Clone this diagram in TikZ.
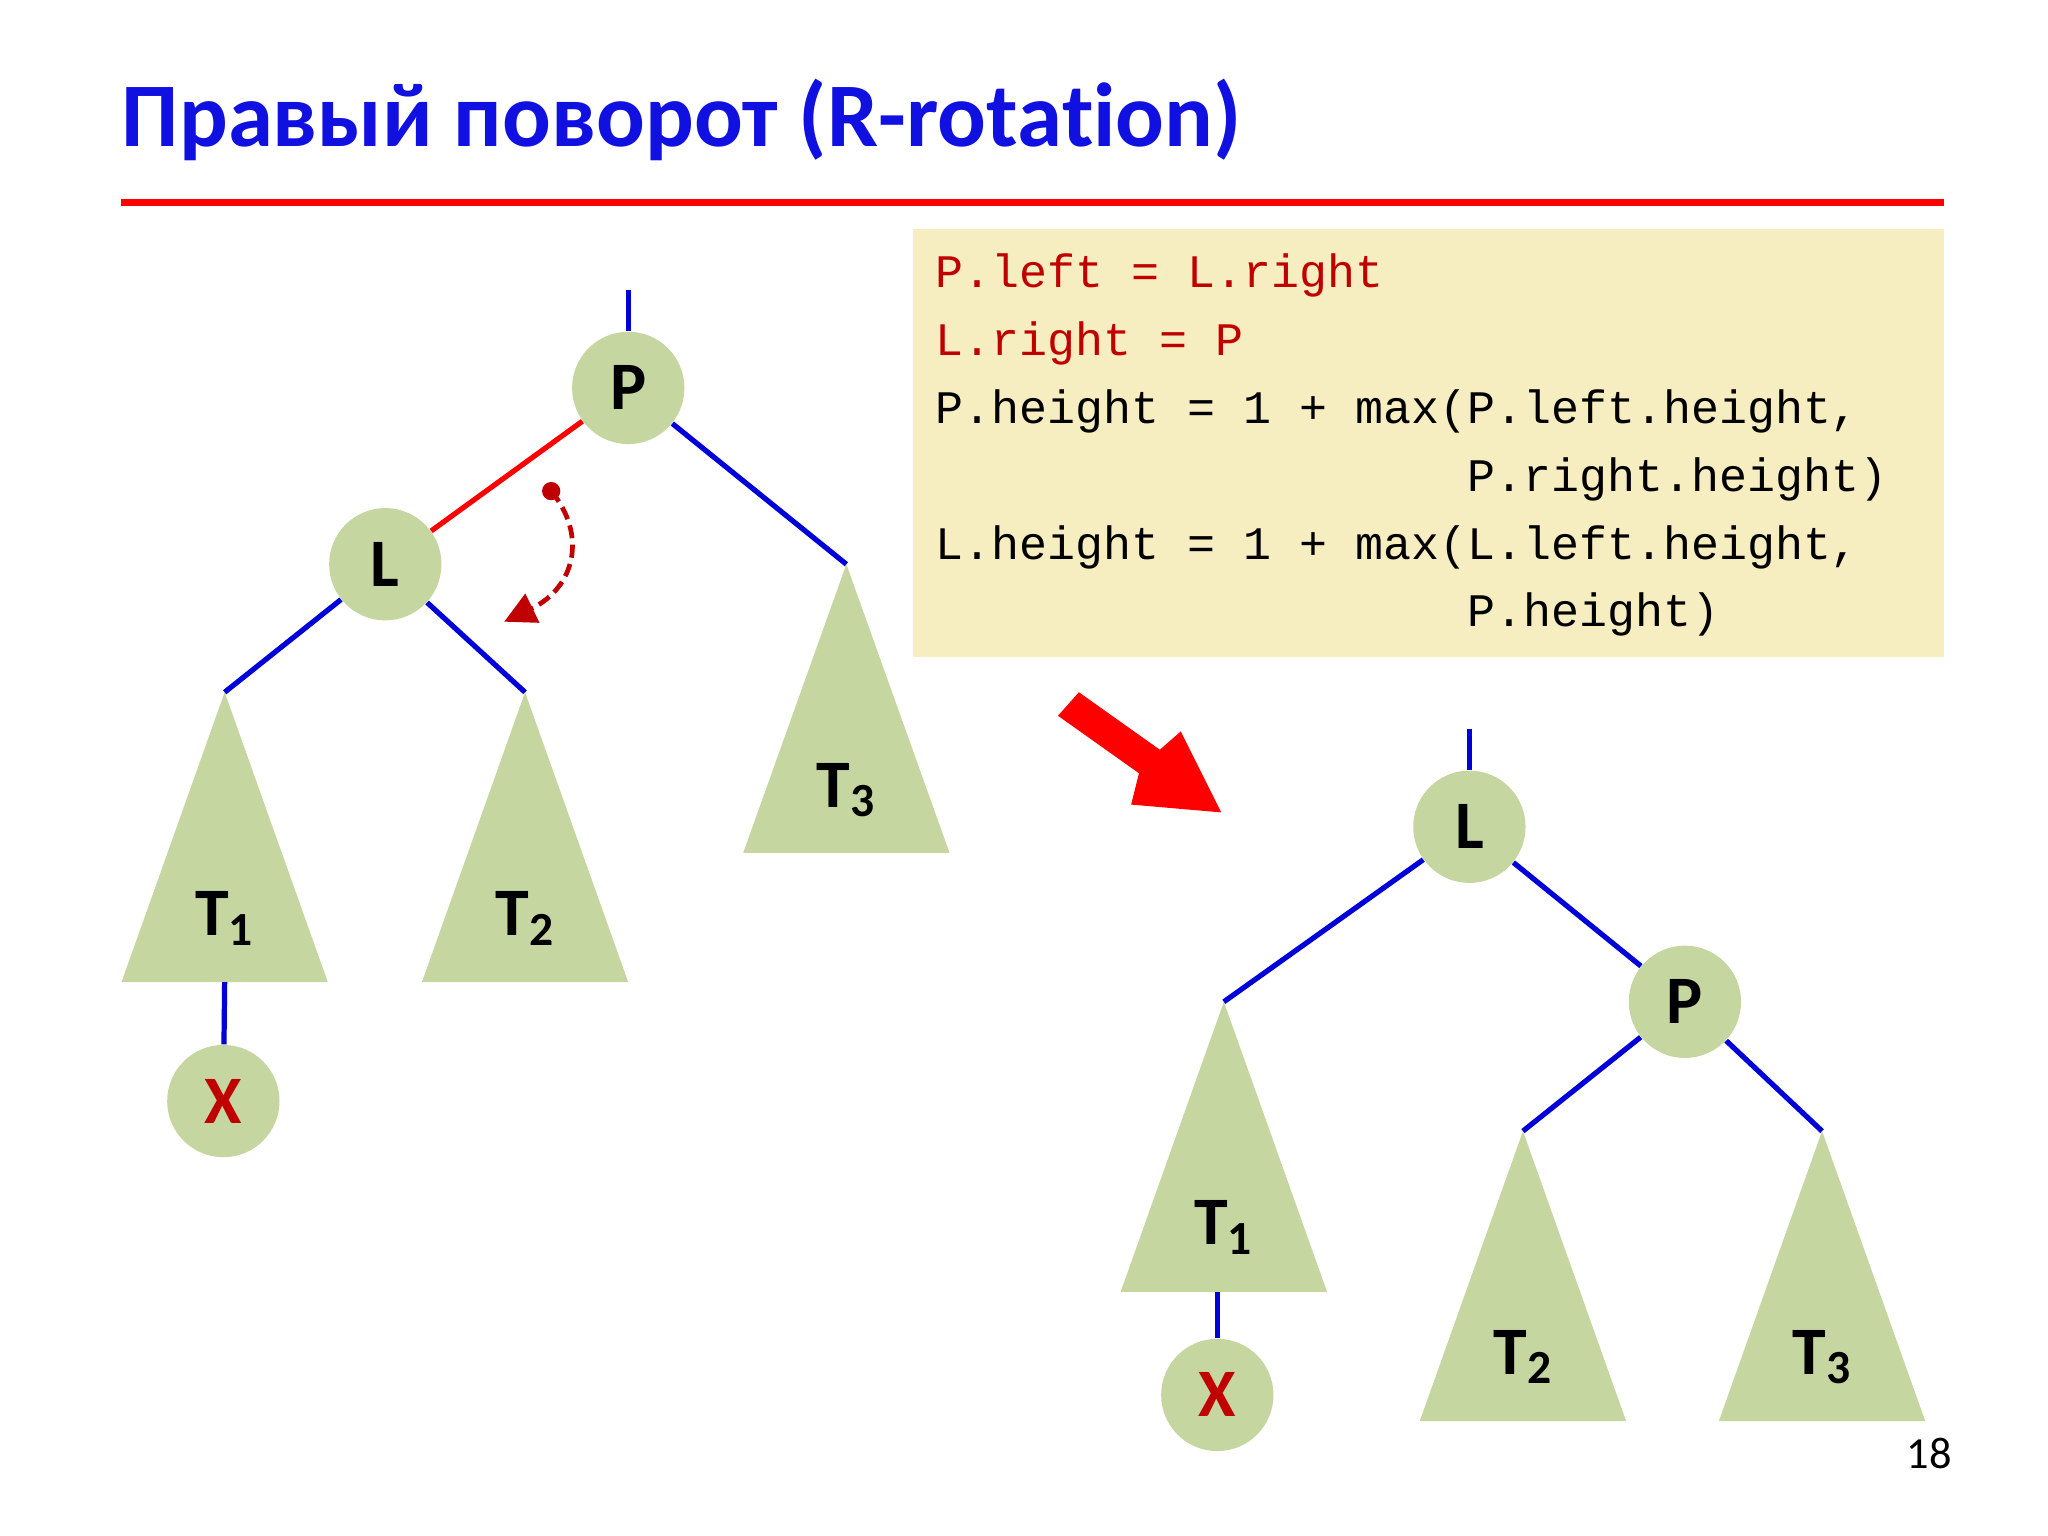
\documentclass[tikz,border=0pt]{standalone}
\usepackage{fontspec}
\setmainfont[Ligatures=NoCommon]{Carlito}
\setmonofont{Liberation Mono}
\usetikzlibrary{arrows.meta}
\definecolor{gr}{HTML}{C5D6A0}
\definecolor{dred}{HTML}{C00000}
\definecolor{boxy}{HTML}{F6EDC0}
\definecolor{ttl}{HTML}{1010E0}
\tikzset{
 vtx/.style={circle,fill=gr,minimum size=43pt,inner sep=0pt,font=\bfseries\fontsize{26}{30}\selectfont},
 tri/.style={fill=gr,draw=none},
 edg/.style={draw=blue!85!black,line width=2pt},
 tl/.style={font=\bfseries\fontsize{26}{30}\selectfont},
 code/.style={anchor=base west,font=\ttfamily\fontsize{17.85}{20}\selectfont,inner sep=0pt}
}
\begin{document}
\begin{tikzpicture}[x=0.5pt,y=-0.5pt]
\useasboundingbox (0,0) rectangle (1568,1176);
\node[anchor=base west,inner sep=0pt,text=ttl,font=\bfseries\fontsize{34.8}{40}\selectfont] (title) at (93,112) {Правый поворот (R-rota\kern0pt tion)};
\draw[red,line width=2.5pt] (93,155) coordinate (r1) -- (1488,155) coordinate (r2);
\fill[boxy] (699,175) rectangle (1488,503);
\node[code,text=dred] (c1) at (716,220) {P.left = L.right};
\node[code,text=dred] (c2) at (716,272) {L.right = P};
\node[code] (c3) at (716,324) {P.height = 1 + max(P.left.height,};
\node[code] (c4) at (716,376) {\phantom{P.height = 1 + max(}P.right.height)};
\node[code] (c5) at (716,428) {L.height = 1 + max(L.left.height,};
\node[code] (c6) at (716,480) {\phantom{L.height = 1 + max(}P.height)};
% left tree
\fill[tri] (172,530) coordinate (a1) -- (93,752) -- (251,752) -- cycle;
\fill[tri] (402,530) coordinate (a2) -- (323,752) -- (481,752) -- cycle;
\fill[tri] (648,432) coordinate (a3) -- (569,653) -- (727,653) -- cycle;
\node[tl] at (172,703) {T\textsubscript{1}};
\node[tl] at (402,703) {T\textsubscript{2}};
\node[tl] at (648,605) {T\textsubscript{3}};
\node[vtx] (P) at (481,297) {P};
\node[vtx] (L) at (295,432) {L};
\node[vtx,text=dred] (X) at (171,843) {X};
\coordinate (pt) at (481,222);
\coordinate (b1) at (172,752);
\draw[edg] (pt) -- (P.north);
\draw[red,line width=2pt] (P) -- (L);
\draw[edg] (P) -- (a3);
\draw[edg] (L) -- (a1);
\draw[edg] (L) -- (a2);
\draw[edg] (b1) -- (X);
\coordinate (d1) at (422,376);
\coordinate (d2) at (386,476);
\fill[dred] (d1) circle (7);
\draw[dred,line width=1.8pt,dash pattern=on 5pt off 2.5pt,-{Triangle[length=12pt,width=12pt]}] (d1) .. controls (450,410) and (440,450) .. (d2);
% arrow
\fill[red] (810,548) -- (826,530) -- (888,574) -- (904,560) -- (935,622) -- (866,616) -- (872,592) -- cycle;
% right tree
\fill[tri] (937,767) coordinate (e1) -- (858,989) -- (1016,989) -- cycle;
\fill[tri] (1166,866) coordinate (e2) -- (1087,1088) -- (1245,1088) -- cycle;
\fill[tri] (1395,866) coordinate (e3) -- (1316,1088) -- (1474,1088) -- cycle;
\node[tl] at (937,940) {T\textsubscript{1}};
\node[tl] at (1166,1039) {T\textsubscript{2}};
\node[tl] at (1395,1039) {T\textsubscript{3}};
\node[vtx] (L2) at (1125,633) {L};
\node[vtx] (P2) at (1290,767) {P};
\node[vtx,text=dred] (X2) at (932,1068) {X};
\coordinate (lt) at (1125,558);
\coordinate (b2) at (932,989);
\draw[edg] (lt) -- (L2.north);
\draw[edg] (L2) -- (e1);
\draw[edg] (L2) -- (P2);
\draw[edg] (P2) -- (e2);
\draw[edg] (P2) -- (e3);
\draw[edg] (b2) -- (X2);
\node[font=\fontsize{17}{20}\selectfont] (pg) at (1477,1113) {18};
\end{tikzpicture}
\end{document}
